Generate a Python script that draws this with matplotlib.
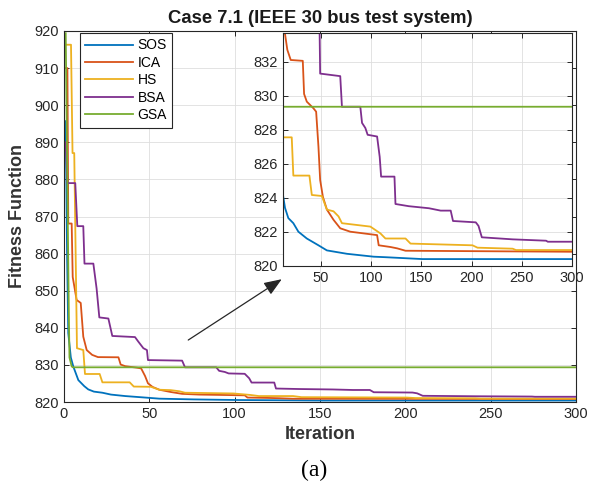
import matplotlib
matplotlib.use('Agg')
import matplotlib.pyplot as plt

plt.rcParams['font.family'] = ['Liberation Sans', 'DejaVu Sans']

# convergence curves, (iteration, best fitness) breakpoints
sos_x = [1, 1.8, 2.5, 4, 5.5, 8.4, 11.9, 14.2, 17.5, 22.5, 27.5, 35.9, 47.5, 55.9, 75.9, 102.5, 114.2, 150.9, 300]
sos_y = [895.7, 860, 838.6, 832, 829.5, 825.9, 824.26, 823.4, 822.8, 822.5, 822.0, 821.6, 821.2, 820.9, 820.7, 820.53, 820.5, 820.39, 820.39]

ica_x = [1, 2, 2.5, 4.5, 5.1, 7.4, 9.8, 11.3, 13.3, 16.5, 19.9, 31.9, 33.2, 35.9, 42.5, 45.2, 47.5, 49.2, 51.9,
         55.9, 62.5, 69.2, 79.2, 105.9, 107.5, 119.2, 125.9, 134.2, 300]
ica_y = [910, 910, 868.1, 868.1, 853.7, 847.5, 846.7, 837.6, 834.0, 832.7, 832.1, 832.05, 830.1, 829.65, 829.26, 829.06,
         827.0, 825.04, 824.06, 823.3, 822.7, 822.2, 822.0, 821.8, 821.2, 821.1, 821.02, 820.88, 820.82]

hs_x = [1, 4.1, 5, 6, 7.6, 11.3, 12.3, 20.9, 22.5, 38.5, 40.9, 50.9, 55.9, 62.5, 67.5, 70.9, 99.2, 109.2, 114.2,
        134.2, 139.2, 200.9, 205.9, 240.9, 244.2, 300]
hs_y = [916.3, 916.3, 887.1, 887.1, 834.5, 834.0, 827.55, 827.55, 825.3, 825.3, 824.16, 824.1, 823.3, 823.2, 822.9,
        822.5, 822.3, 821.9, 821.6, 821.6, 821.3, 821.2, 821.06, 821.0, 820.92, 820.92]

bsa_x = [1, 2, 6.6, 7.8, 11.3, 12, 17.2, 19.1, 20.7, 26, 28.3, 41.6, 43.5, 46.5, 48.6, 49.2, 69.2, 70.9, 89.2, 90.9,
         94.2, 96.5, 105.9, 108.5, 109.9, 123.2, 124.2, 137.5, 157.5, 169.2, 179.2, 181.5, 204.2, 206.9, 210.2,
         240.9, 274.2, 275.9, 300]
bsa_y = [890, 879, 879, 867.4, 867.4, 857.3, 857.3, 850.6, 842.8, 842.5, 837.8, 837.5, 836.3, 834.5, 834.0, 831.3,
         831.15, 829.35, 829.35, 828.4, 828.1, 827.7, 827.6, 826.4, 825.24, 825.24, 823.63, 823.5, 823.38, 823.24,
         823.24, 822.63, 822.55, 822.34, 821.67, 821.55, 821.47, 821.41, 821.41]

gsa_x = [1, 2.8, 3.2, 4.5, 5.2, 300]
gsa_y = [919.4, 845, 832, 829.6, 829.35, 829.35]

names = ['SOS', 'ICA', 'HS', 'BSA', 'GSA']
colors = ['#0072BD', '#D95319', '#EDB120', '#7E2F8E', '#77AC30']
series = [(sos_x, sos_y), (ica_x, ica_y), (hs_x, hs_y), (bsa_x, bsa_y), (gsa_x, gsa_y)]

dark = '#262626'


def style(a):
    a.tick_params(direction='in', top=True, right=True, length=3.5, width=0.7,
                  colors=dark, labelsize=10.5)
    for s in a.spines.values():
        s.set_color(dark)
        s.set_linewidth(0.8)
    a.grid(True, color='#dedede', linewidth=0.6)
    a.set_axisbelow(True)


fig = plt.figure(figsize=(5.89, 4.92), dpi=100)
ax = fig.add_axes([64 / 589, 90 / 492, 512 / 589, 371 / 492])
for (x, y), c, n in zip(series, colors, names):
    ax.plot(x, y, color=c, lw=1.3, label=n)
ax.set_xlim(0, 300)
ax.set_ylim(820, 920)
ax.set_xticks(range(0, 301, 50))
ax.set_yticks(range(820, 921, 10))
style(ax)
ax.set_title('Case 7.1 (IEEE 30 bus test system)', fontsize=13.3, fontweight='bold', color='#1a1a1a', pad=6)
ax.set_xlabel('Iteration', fontsize=13, fontweight='bold', color='#333333', labelpad=4)
ax.set_ylabel('Fitness Function', fontsize=13, fontweight='bold', color='#333333', labelpad=6)

leg = ax.legend(loc='upper left', bbox_to_anchor=(0.031, 0.995), borderaxespad=0, fontsize=10,
                handlelength=3.4, labelspacing=0.25, handletextpad=0.35, borderpad=0.4,
                fancybox=False, framealpha=1)
leg.get_frame().set_edgecolor(dark)
leg.get_frame().set_linewidth(0.8)

ax.annotate('', xy=(127.6, 853.1), xytext=(72.8, 836.7),
            arrowprops=dict(arrowstyle='-|>,head_length=0.9,head_width=0.35', color=dark, lw=0.9,
                            mutation_scale=12, shrinkA=0, shrinkB=0))

# zoomed view of the final convergence
ins = fig.add_axes([282.7 / 589, (492 - 265.7) / 492, 289.3 / 589, 232.4 / 492])
for (x, y), c in zip(series, colors):
    ins.plot(x, y, color=c, lw=1.3)
ins.set_xlim(11.9, 300)
ins.set_ylim(820, 833.67)
ins.set_xticks(range(50, 301, 50))
ins.set_yticks(range(820, 833, 2))
style(ins)

fig.text(314 / 589, 1 - 470 / 492, '(a)', family='Liberation Serif', fontsize=17, ha='center', va='center')

fig.savefig('out.png', dpi=100)
